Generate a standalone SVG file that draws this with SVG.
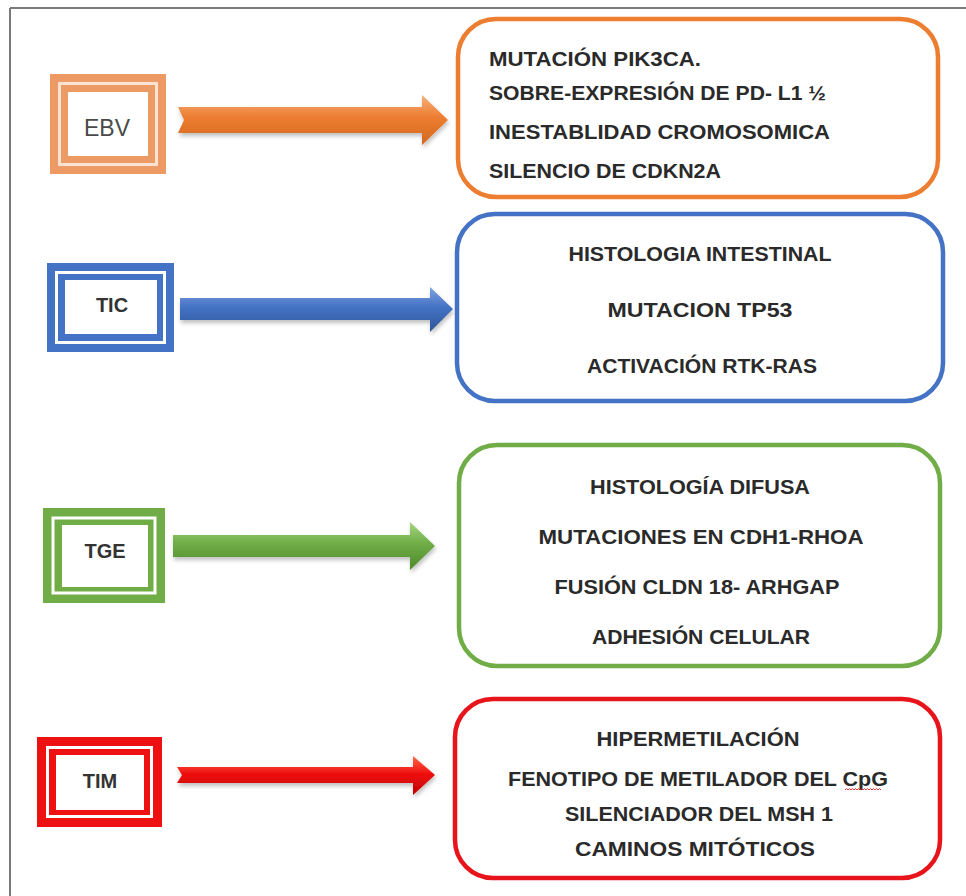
<svg xmlns="http://www.w3.org/2000/svg" width="966" height="896" viewBox="0 0 966 896">
<defs>
<style>
.frame{fill:none;stroke:#7a7a7a;stroke-width:2}
.rbox{fill:#fff;stroke-width:4.5}
.t{font-family:"Liberation Sans",Arial,sans-serif;font-weight:bold;font-size:21px;fill:#2a2a2a}
.tc{text-anchor:middle}
.lbl{font-family:"Liberation Sans",Arial,sans-serif;font-weight:bold;font-size:20px;fill:#333;text-anchor:middle}
</style>
<linearGradient id="gO" x1="0" y1="0" x2="0" y2="1"><stop offset="0" stop-color="#F7B07C"/><stop offset="0.45" stop-color="#ED7D31"/><stop offset="1" stop-color="#D2681E"/></linearGradient>
<linearGradient id="gB" x1="0" y1="0" x2="0" y2="1"><stop offset="0" stop-color="#7FA2E0"/><stop offset="0.45" stop-color="#4472C4"/><stop offset="1" stop-color="#2F5597"/></linearGradient>
<linearGradient id="gG" x1="0" y1="0" x2="0" y2="1"><stop offset="0" stop-color="#A5D67F"/><stop offset="0.45" stop-color="#70AD47"/><stop offset="1" stop-color="#4E8A2A"/></linearGradient>
<linearGradient id="gR" x1="0" y1="0" x2="0" y2="1"><stop offset="0" stop-color="#FF6A4A"/><stop offset="0.45" stop-color="#F01010"/><stop offset="1" stop-color="#C00000"/></linearGradient>
<filter id="sh" x="-10%" y="-40%" width="120%" height="200%"><feDropShadow dx="1" dy="3" stdDeviation="2" flood-color="#000" flood-opacity="0.25"/></filter>
</defs>

<g id="frame">
<line class="frame" x1="10" y1="8" x2="966" y2="8"/>
<line class="frame" x1="10" y1="8" x2="10" y2="896"/>
</g>

<g id="connectors" filter="url(#sh)">
<polygon fill="url(#gO)" points="178,107 422,107 422,95 448,120 422,145 422,133 178,133 184,120"/>
<polygon fill="url(#gB)" points="180,298 430,298 430,287 453,309 430,332 430,320 180,320"/>
<polygon fill="url(#gG)" points="173,535 410,535 410,522 435,546 410,570 410,557 173,557"/>
<polygon fill="url(#gR)" points="177,767 413,767 413,756 435,775 413,795 413,783 177,783 182,775"/>
</g>

<g id="EBV">
<rect x="50" y="74" width="116" height="100" fill="#EE9A64"/>
<rect x="59.5" y="83.5" width="97" height="81" fill="none" stroke="#FBE3D3" stroke-width="3"/>
<rect x="68" y="92" width="80" height="64" fill="#fff"/>
<text x="107" y="136" style="font-family:'Liberation Sans',Arial,sans-serif;font-size:23px;fill:#4a4a4a;text-anchor:middle">EBV</text>
</g>

<g id="TIC">
<rect x="47" y="263" width="127" height="89" fill="#4472C4"/>
<rect x="56.5" y="272.5" width="108" height="70" fill="none" stroke="#fff" stroke-width="3"/>
<rect x="65" y="280" width="92" height="54" fill="#fff"/>
<text class="lbl" x="112" y="312">TIC</text>
</g>

<g id="TGE">
<rect x="43" y="508" width="122" height="95" fill="#70AD47"/>
<rect x="53" y="518" width="102" height="75" fill="none" stroke="#fff" stroke-width="3"/>
<rect x="62" y="525" width="86" height="62" fill="#fff"/>
<text class="lbl" x="105" y="558">TGE</text>
</g>

<g id="TIM">
<rect x="37" y="737" width="125" height="90" fill="#EE1111"/>
<rect x="47.5" y="747.5" width="104" height="69" fill="none" stroke="#fff" stroke-width="3"/>
<rect x="56" y="755" width="88" height="55" fill="#fff"/>
<text class="lbl" x="100" y="788">TIM</text>
</g>

<g id="box-ebv">
<rect class="rbox" x="458" y="19" width="480" height="178" rx="38" stroke="#ED7D31"/>
<text class="t" x="489" y="66" textLength="212" lengthAdjust="spacingAndGlyphs">MUTACIÓN PIK3CA.</text>
<text class="t" x="489" y="100" textLength="337" lengthAdjust="spacingAndGlyphs">SOBRE-EXPRESIÓN DE PD- L1 ½</text>
<text class="t" x="489" y="139" textLength="341" lengthAdjust="spacingAndGlyphs">INESTABLIDAD CROMOSOMICA</text>
<text class="t" x="489" y="178" textLength="232" lengthAdjust="spacingAndGlyphs">SILENCIO DE CDKN2A</text>
</g>

<g id="box-tic">
<rect class="rbox" x="457" y="214" width="486" height="187" rx="38" stroke="#4472C4"/>
<text class="t tc" x="700" y="261" textLength="263" lengthAdjust="spacingAndGlyphs">HISTOLOGIA INTESTINAL</text>
<text class="t tc" x="700" y="317" textLength="185" lengthAdjust="spacingAndGlyphs">MUTACION TP53</text>
<text class="t tc" x="702" y="373" textLength="230" lengthAdjust="spacingAndGlyphs">ACTIVACIÓN RTK-RAS</text>
</g>

<g id="box-tge">
<rect class="rbox" x="459" y="445" width="481" height="221" rx="38" stroke="#70AD47"/>
<text class="t tc" x="700" y="494" textLength="220" lengthAdjust="spacingAndGlyphs">HISTOLOGÍA DIFUSA</text>
<text class="t tc" x="701" y="544" textLength="325" lengthAdjust="spacingAndGlyphs">MUTACIONES EN CDH1-RHOA</text>
<text class="t tc" x="697" y="594" textLength="285" lengthAdjust="spacingAndGlyphs">FUSIÓN CLDN 18- ARHGAP</text>
<text class="t tc" x="701" y="644" textLength="218" lengthAdjust="spacingAndGlyphs">ADHESIÓN CELULAR</text>
</g>

<g id="box-tim">
<rect class="rbox" x="455" y="699" width="485" height="179" rx="38" stroke="#E8141B"/>
<text class="t tc" x="698" y="746" textLength="203" lengthAdjust="spacingAndGlyphs">HIPERMETILACIÓN</text>
<text class="t tc" x="698" y="786" textLength="380" lengthAdjust="spacingAndGlyphs">FENOTIPO DE METILADOR DEL CpG</text>
<text class="t tc" x="699" y="821" textLength="268" lengthAdjust="spacingAndGlyphs">SILENCIADOR DEL MSH 1</text>
<text class="t tc" x="695" y="856" textLength="240" lengthAdjust="spacingAndGlyphs">CAMINOS MITÓTICOS</text>
<path d="M845,790 l1.5,-1.5 l1.5,1.5 l1.5,-1.5 l1.5,1.5 l1.5,-1.5 l1.5,1.5 l1.5,-1.5 l1.5,1.5 l1.5,-1.5 l1.5,1.5 l1.5,-1.5 l1.5,1.5 l1.5,-1.5 l1.5,1.5 l1.5,-1.5 l1.5,1.5 l1.5,-1.5 l1.5,1.5 l1.5,-1.5 l1.5,1.5 l1.5,-1.5 l1.5,1.5 l1.5,-1.5 l1.5,1.5" fill="none" stroke="#E02020" stroke-width="0.9"/>
</g>
</svg>
